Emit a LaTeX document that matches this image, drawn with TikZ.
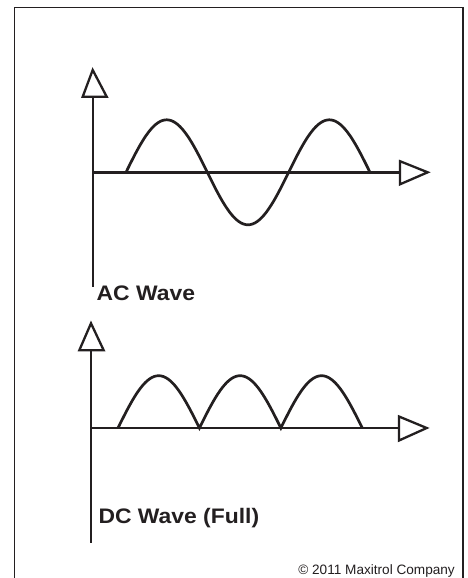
\documentclass[tikz,border=0pt]{standalone}
\usepackage{fontspec}
\setmainfont{Liberation Sans}
\definecolor{ink}{HTML}{231F20}
\begin{document}
\begin{tikzpicture}[x=1pt,y=-1pt,
  frame/.style={draw=ink,line width=1.5pt},
  axis/.style={draw=ink,line width=2.4pt},
  tip/.style={draw=ink,fill=white,line width=2.3pt,line join=miter},
  wave/.style={draw=ink,line width=2.7pt},
  lbl/.style={inner sep=0pt,anchor=base west,text=ink,font=\fontsize{21}{24}\selectfont\bfseries},
  copy/.style={inner sep=0pt,anchor=base east,text=ink,font=\fontsize{13.6}{16}\selectfont}]
\useasboundingbox (0,0) rectangle (467,578);
\fill[white] (0,0) rectangle (467,578);
\draw[frame] (14.7,590) -- (14.7,7.3) -- (462.8,7.3) -- (462.8,590);
% ---- AC plot
\coordinate (ao) at (92.7,172.3);
\coordinate (ay) at (92.7,96.7);
\coordinate (ab) at (92.7,287);
\coordinate (ax) at (400,172.3);
\draw[axis] (ay) -- (ab);
\draw[axis] (ao) -- (ax);
\draw[tip] (82.7,96.7) -- (92.7,70) -- (106.7,96.7) -- cycle;
\draw[tip] (400,161.2) -- (427.7,172.3) -- (400,184.3) -- cycle;
\draw[wave] plot[domain=0:540,samples=109,smooth] ({126+\x/180*81.33},{172.3-52.5*sin(\x)});
\node[lbl] (aclabel) at (96.5,300) {\scalebox{1.09}[1]{AC Wave}};
% ---- DC plot
\coordinate (dy) at (91,350.3);
\coordinate (db) at (91,543.3);
\coordinate (do) at (91,428);
\coordinate (dx) at (399,428);
\draw[axis] (dy) -- (db);
\draw[axis] (do) -- (dx);
\draw[tip] (79.3,350.3) -- (91,323.3) -- (103.7,350.3) -- cycle;
\draw[tip] (399,416.5) -- (426.7,428) -- (399,440.5) -- cycle;
\draw[wave,line join=miter] plot[domain=0:540,samples=109] ({118+\x/180*81.43},{428-52.3*abs(sin(\x))});
\node[lbl] (dclabel) at (98.3,523.3) {\scalebox{1.09}[1]{DC Wave (Full)}};
% ---- copyright
\node[copy] (copyright) at (455,574.3) {© 2011 Maxitrol Company};
\end{tikzpicture}
\end{document}
